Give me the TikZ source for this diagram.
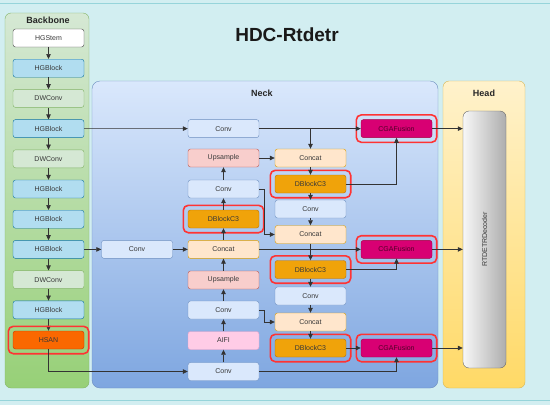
\documentclass[tikz,border=0pt]{standalone}
\usepackage{fontspec}
\setmainfont{Liberation Sans}
\usepackage{graphicx}
\usetikzlibrary{arrows.meta, fit}
\definecolor{bgcyan}{HTML}{D2EEF1}
\definecolor{bgline}{HTML}{96D4DA}
\definecolor{hgfill}{HTML}{B1DDF0}
\definecolor{hgline}{HTML}{10739E}
\definecolor{dwfill}{HTML}{D5E8D4}
\definecolor{dwline}{HTML}{82B366}
\definecolor{greenbot}{HTML}{97D077}
\definecolor{hsanfill}{HTML}{FA6800}
\definecolor{hsanline}{HTML}{C73500}
\definecolor{convfill}{HTML}{DAE8FC}
\definecolor{convline}{HTML}{6C8EBF}
\definecolor{bluebot}{HTML}{7EA6E0}
\definecolor{upfill}{HTML}{F8CECC}
\definecolor{upline}{HTML}{B85450}
\definecolor{catfill}{HTML}{FFE6CC}
\definecolor{catline}{HTML}{D79B00}
\definecolor{dcfill}{HTML}{F0A30A}
\definecolor{dcline}{HTML}{BD7000}
\definecolor{aififill}{HTML}{FFCCE6}
\definecolor{aifiline}{HTML}{E6A0C8}
\definecolor{cgafill}{HTML}{D80073}
\definecolor{cgaline}{HTML}{A50040}
\definecolor{cgatext}{HTML}{500028}
\definecolor{headtop}{HTML}{FFF2CC}
\definecolor{headbot}{HTML}{FFD966}
\definecolor{headline}{HTML}{D6B656}
\definecolor{hlred}{HTML}{FF3333}

\begin{document}
\begin{tikzpicture}[x=1pt, y=-1pt,
        box/.style={draw, rounded corners=2.5pt, minimum width=71pt, minimum height=18pt, inner sep=0pt, font=\fontsize{7}{8}\selectfont, text=black!78},
        stembox/.style={box, fill=white, draw=black!75},
        hgbox/.style={box, fill=hgfill, draw=hgline},
        dwbox/.style={box, fill=dwfill, draw=dwline},
        hsanbox/.style={box, fill=hsanfill, draw=hsanline},
        convbox/.style={box, fill=convfill, draw=convline},
        upbox/.style={box, fill=upfill, draw=upline},
        catbox/.style={box, fill=catfill, draw=catline},
        dcbox/.style={box, fill=dcfill, draw=dcline},
        aifibox/.style={box, fill=aififill, draw=aifiline},
        cgabox/.style={box, fill=cgafill, draw=cgaline, text=cgatext},
        hl/.style={draw=hlred, line width=1.6pt, rounded corners=5pt, inner sep=4.5pt},
        arr/.style={draw=black!80, line width=0.7pt, -{Triangle[length=5pt,width=4.5pt]}},
        paneltitle/.style={font=\fontsize{9}{10}\selectfont\bfseries, text=black!85}]
    \useasboundingbox (0,0) rectangle (550,405);
    \fill[bgcyan] (0,0) rectangle (550,405);
    \draw[bgline, line width=0.8pt] (0,3) -- (550,3) (0,400) -- (550,400);
    \draw[draw=dwline, top color=dwfill, bottom color=greenbot, rounded corners=6pt] (5,13) rectangle (89,388);
    \draw[draw=convline, top color=convfill, bottom color=bluebot, rounded corners=8pt] (92,81) rectangle (438,388);
    \draw[draw=headline, top color=headtop, bottom color=headbot, rounded corners=6pt] (443,81) rectangle (525,388);
    \node[font=\fontsize{19}{22}\selectfont\bfseries, text=black!90] (title) at (287,35) {HDC-Rtdetr};
    \node[paneltitle] (bbt) at (48,20) {Backbone};
    \node[paneltitle] (nkt) at (262,93) {Neck};
    \node[paneltitle] (hdt) at (484,93) {Head};
    \foreach \n/\t/\s [count=\i from 0] in {b1/HGStem/stembox, b2/HGBlock/hgbox, b3/DWConv/dwbox, b4/HGBlock/hgbox, b5/DWConv/dwbox, b6/HGBlock/hgbox, b7/HGBlock/hgbox, b8/HGBlock/hgbox, b9/DWConv/dwbox, b10/HGBlock/hgbox, b11/HSAN/hsanbox}
        \node[\s] (\n) at (48.5,38+30.2*\i) {\t};
    \foreach \a/\b in {b1/b2, b2/b3, b3/b4, b4/b5, b5/b6, b6/b7, b7/b8, b8/b9, b9/b10, b10/b11}
        \draw[arr] (\a.south) -- (\b.north);
    \node[convbox] (cv1) at (223.5,128.6) {Conv};
    \node[upbox] (up1) at (223.5,158) {Upsample};
    \node[convbox] (cv2) at (223.5,189) {Conv};
    \node[dcbox] (dc1) at (223.5,219) {DBlockC3};
    \node[catbox] (ca1) at (223.5,249.4) {Concat};
    \node[upbox] (up2) at (223.5,280) {Upsample};
    \node[convbox] (cv3) at (223.5,310) {Conv};
    \node[aifibox] (aifi) at (223.5,340.5) {AIFI};
    \node[convbox] (cv4) at (223.5,371.5) {Conv};
    \node[convbox] (cvl) at (137,249.4) {Conv};
    \node[catbox] (ca2) at (310.5,158) {Concat};
    \node[dcbox] (dc2) at (310.5,184) {DBlockC3};
    \node[convbox] (cv5) at (310.5,209) {Conv};
    \node[catbox] (ca3) at (310.5,234.5) {Concat};
    \node[dcbox] (dc3) at (310.5,269.5) {DBlockC3};
    \node[convbox] (cv6) at (310.5,296) {Conv};
    \node[catbox] (ca4) at (310.5,322) {Concat};
    \node[dcbox] (dc4) at (310.5,348) {DBlockC3};
    \node[cgabox] (cg1) at (396.5,128.6) {CGAFusion};
    \node[cgabox] (cg2) at (396.5,249.4) {CGAFusion};
    \node[cgabox] (cg3) at (396.5,348) {CGAFusion};
    \node[draw=black!60, rounded corners=6pt, minimum width=43pt, minimum height=257pt, left color=black!3, right color=black!32, font=\fontsize{7}{8}\selectfont, text=black!78] (dec) at (484.5,239.5) {\rotatebox{90}{RTDETRDecoder}};
    \foreach \n in {b11, dc1, dc2, dc3, dc4, cg1, cg2, cg3}
        \node[hl, fit=(\n)] (hl\n) {};
    \draw[arr] (b4) -- (cv1);
    \draw[arr] (b8) -- (cvl);
    \draw[arr] (cvl) -- (ca1);
    \draw[arr] (b11.south) |- (cv4.west);
    \foreach \a/\b in {cv4/aifi, aifi/cv3, cv3/up2, up2/ca1, ca1/dc1, dc1/cv2, cv2/up1}
        \draw[arr] (\a.north) -- (\b.south);
    \foreach \a/\b in {ca2/dc2, dc2/cv5, cv5/ca3, ca3/dc3, dc3/cv6, cv6/ca4, ca4/dc4}
        \draw[arr] (\a.south) -- (\b.north);
    \draw[arr] (up1) -- (ca2);
    \draw[arr] (cv1) -- (cg1);
    \draw[arr] (cv1.east -| ca2.north) -- (ca2.north);
    \draw[arr] (dc2.east) -| (cg1.south);
    \draw[arr] (cv2.east) -- ++(5,0) |- (ca3.west);
    \draw[arr] (ca1) -- (cg2);
    \draw[arr] (dc3.east) -| (cg2.south);
    \draw[arr] (cv3.east) -- ++(5,0) |- (ca4.west);
    \draw[arr] (dc4) -- (cg3);
    \draw[arr] (cv4.east) -| (cg3.south);
    \foreach \n in {cg1, cg2, cg3}
        \draw[arr] (\n.east) -- (\n.east -| dec.west);
\end{tikzpicture}
\end{document}
